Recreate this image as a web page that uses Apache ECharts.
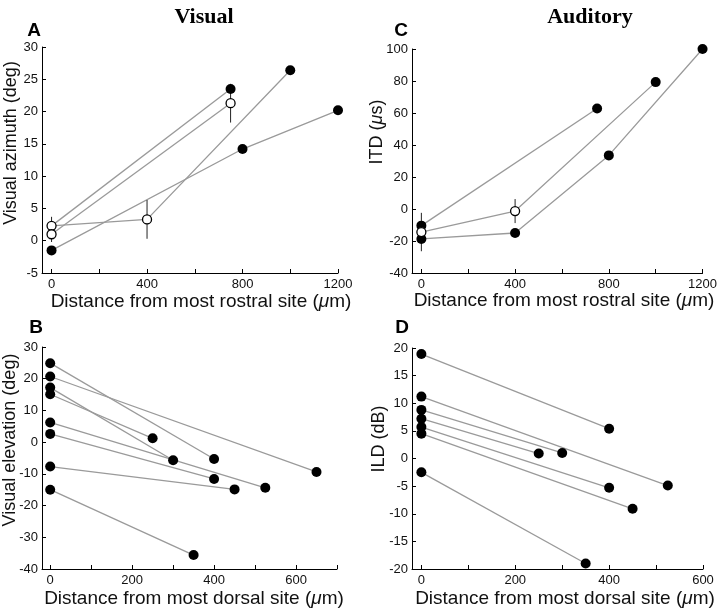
<!DOCTYPE html>
<html>
<head>
<meta charset="utf-8">
<script src="https://cdn.jsdelivr.net/npm/echarts@6/dist/echarts.min.js"></script>
<style>
html,body{margin:0;padding:0;background:#fff;}
#chart{width:720px;height:609px;}
</style>
</head>
<body>
<div id="chart"></div>
<script>
// ---- Panel A: Visual azimuth (deg) vs distance from most rostral site ----
const azimuthTracks = [
  [[0, 2.3], [750, 23.5]],
  [[0, 1.0], [750, 21.3]],
  [[0, 2.3], [400, 3.3], [1000, 26.4]],
  [[0, -1.5], [800, 14.2], [1200, 20.2]]
];
const azimuthOpen = [[0, 2.3, 1.4], [0, 1.0, 1.2], [400, 3.3, 3.0], [750, 21.3, 3.0]]; // x, y, error

// ---- Panel C: ITD (us) vs distance from most rostral site ----
const itdTracks = [
  [[0, -10.4], [750, 62.8]],
  [[0, -14.4], [400, -1.3], [1000, 79.3]],
  [[0, -18.7], [400, -15.0], [800, 33.5], [1200, 100]]
];
const itdOpen = [[0, -14.4, 12.0], [400, -1.3, 7.5]];

// ---- Panel B: Visual elevation (deg) vs distance from most dorsal site ----
const elevationTracks = [
  [[0, 24.9], [400, -5.3]],
  [[0, 20.7], [650, -9.4]],
  [[0, 17.2], [300, -5.7]],
  [[0, 15.1], [250, 1.2]],
  [[0, 6.2], [525, -14.4]],
  [[0, 2.6], [400, -11.6]],
  [[0, -7.7], [450, -14.9]],
  [[0, -15.0], [350, -35.6]]
];
const elevationOpen = [];

// ---- Panel D: ILD (dB) vs distance from most dorsal site ----
const ildTracks = [
  [[0, 18.9], [400, 5.4]],
  [[0, 11.2], [525, -4.9]],
  [[0, 8.8], [300, 1.0]],
  [[0, 7.2], [250, 0.9]],
  [[0, 5.7], [400, -5.3]],
  [[0, 4.5], [450, -9.1]],
  [[0, -2.5], [350, -19.0]]
];
const ildOpen = [];

// ---- Axis ticks / labels ----
const rostralTicks = [0, 200, 400, 600, 800, 1000, 1200];
const rostralLabels = [0, 400, 800, 1200];
const dorsalTicksB = [0, 100, 200, 300, 400, 500, 600, 700];
const dorsalTicksD = [0, 100, 200, 300, 400, 500, 600];
const dorsalLabels = [0, 200, 400, 600];

const panelTitles = ['Visual', 'Auditory'];
const panelLetters = ['A', 'C', 'B', 'D'];
const yNames = ['Visual azimuth (deg)', 'ITD ({it|μ}s)', 'Visual elevation (deg)', 'ILD (dB)'];
const xNames = ['Distance from most rostral site ({it|μ}m)', 'Distance from most rostral site ({it|μ}m)',
                'Distance from most dorsal site ({it|μ}m)', 'Distance from most dorsal site ({it|μ}m)'];

const FONT = '"Liberation Sans", Arial, Helvetica, sans-serif';
const TXT = '#111';

const grids = [
  {left: 42, top: 47, width: 296, height: 226},
  {left: 412, top: 49, width: 291, height: 224},
  {left: 42, top: 347, width: 295, height: 222},
  {left: 412, top: 348, width: 291, height: 221}
];

function xAxisCfg(gi, min, max, ticks, labels) {
  return {
    type: 'value', gridIndex: gi, min: min, max: max,
    splitLine: {show: false},
    axisLine: {show: true, onZero: false, lineStyle: {color: '#000', width: 1}},
    axisTick: {show: true, inside: true, length: 4, customValues: ticks, lineStyle: {color: '#000'}},
    axisLabel: {customValues: labels, margin: 5, fontSize: 13, color: TXT, fontFamily: FONT,
                formatter: v => String(v)}
  };
}
function yAxisCfg(gi, min, max, interval) {
  return {
    type: 'value', gridIndex: gi, min: min, max: max, interval: interval,
    splitLine: {show: false},
    axisLine: {show: true, onZero: false, lineStyle: {color: '#000', width: 1}},
    axisTick: {show: true, inside: true, length: 4, lineStyle: {color: '#000'}},
    axisLabel: {margin: 4, fontSize: 13, color: TXT, fontFamily: FONT, formatter: v => String(v)}
  };
}

const panels = [
  {tracks: azimuthTracks, open: azimuthOpen},
  {tracks: itdTracks, open: itdOpen},
  {tracks: elevationTracks, open: elevationOpen},
  {tracks: ildTracks, open: ildOpen}
];

const series = [];
panels.forEach((p, gi) => {
  p.tracks.forEach(t => {
    series.push({
      type: 'line', xAxisIndex: gi, yAxisIndex: gi, data: t,
      symbol: 'none', silent: true, z: 2,
      lineStyle: {color: '#9a9a9a', width: 1.3}
    });
  });
  const isOpen = pt => p.open.some(o => o[0] === pt[0] && o[1] === pt[1]);
  const filled = [];
  p.tracks.forEach(t => t.forEach(pt => { if (!isOpen(pt)) filled.push(pt); }));
  if (p.open.length) {
    series.push({
      type: 'custom', xAxisIndex: gi, yAxisIndex: gi, z: 3, silent: true,
      data: p.open.map(o => [o[0], o[1] - o[2], o[1] + o[2]]),
      renderItem: function (params, api) {
        const a = api.coord([api.value(0), api.value(1)]);
        const b = api.coord([api.value(0), api.value(2)]);
        return {type: 'line', shape: {x1: a[0], y1: a[1], x2: b[0], y2: b[1]},
                style: {stroke: '#222', lineWidth: 1}};
      }
    });
  }
  series.push({
    type: 'scatter', xAxisIndex: gi, yAxisIndex: gi, z: 4, silent: true,
    data: filled, symbol: 'circle', symbolSize: 10,
    itemStyle: {color: '#000', opacity: 1}
  });
  if (p.open.length) {
    series.push({
      type: 'scatter', xAxisIndex: gi, yAxisIndex: gi, z: 5, silent: true,
      data: p.open.map(o => [o[0], o[1]]), symbol: 'circle', symbolSize: 9,
      itemStyle: {color: '#fff', borderColor: '#000', borderWidth: 1.3, opacity: 1}
    });
  }
});

const richIt = {it: {fontStyle: 'italic', fontSize: 19, fontFamily: FONT, fill: TXT}};
const richItY = {it: {fontStyle: 'italic', fontSize: 18, fontFamily: FONT, fill: TXT}};
const titleFont = 'bold 22px "Liberation Serif", "Times New Roman", serif';

const graphic = [
  {type: 'text', x: 204, y: 17, style: {text: panelTitles[0], font: titleFont, fill: '#000', textAlign: 'center', textVerticalAlign: 'middle'}},
  {type: 'text', x: 590, y: 17, style: {text: panelTitles[1], font: titleFont, fill: '#000', textAlign: 'center', textVerticalAlign: 'middle'}}
];

const letterPos = [[34, 31], [401, 31], [36, 328], [402, 328]];
panelLetters.forEach((L, i) => {
  graphic.push({type: 'text', x: letterPos[i][0], y: letterPos[i][1],
    style: {text: L, font: 'bold 19px ' + FONT, fill: '#000', textAlign: 'center', textVerticalAlign: 'middle'}});
});
const yNamePos = [[11, 143], [377, 132], [10, 440], [379, 439]];
yNames.forEach((n, i) => {
  graphic.push({type: 'text', x: yNamePos[i][0], y: yNamePos[i][1], rotation: Math.PI / 2,
    style: {text: n, font: '18px ' + FONT, fill: TXT, textAlign: 'center', textVerticalAlign: 'middle', rich: richItY}});
});
const xNamePos = [[201, 302], [564, 301], [194, 599], [565, 599]];
xNames.forEach((n, i) => {
  graphic.push({type: 'text', x: xNamePos[i][0], y: xNamePos[i][1],
    style: {text: n, font: '19px ' + FONT, fill: TXT, textAlign: 'center', textVerticalAlign: 'middle', rich: richIt}});
});

const option = {
  animation: false,
  backgroundColor: '#fff',
  grid: grids,
  xAxis: [
    xAxisCfg(0, -40, 1200, rostralTicks, rostralLabels),
    xAxisCfg(1, -40, 1200, rostralTicks, rostralLabels),
    xAxisCfg(2, -20, 700, dorsalTicksB, dorsalLabels),
    xAxisCfg(3, -20, 600, dorsalTicksD, dorsalLabels)
  ],
  yAxis: [
    yAxisCfg(0, -5, 30, 5),
    yAxisCfg(1, -40, 100, 20),
    yAxisCfg(2, -40, 30, 10),
    yAxisCfg(3, -20, 20, 5)
  ],
  series: series,
  graphic: graphic
};

const chart = echarts.init(document.getElementById('chart'), null, {renderer: 'canvas'});
chart.setOption(option);
</script>
</body>
</html>
